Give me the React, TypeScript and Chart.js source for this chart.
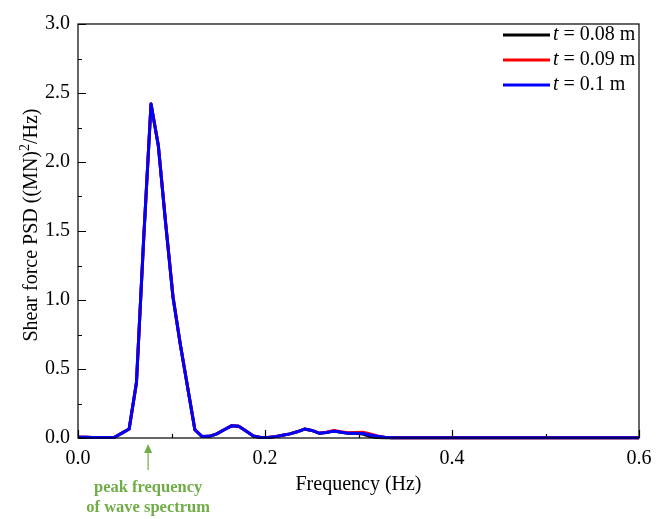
import React, { useEffect, useRef } from 'react';
import { Chart, registerables } from 'chart.js';

Chart.register(...registerables);

// Frequency (Hz)
const frequency = [
  0, 0.0078, 0.0156, 0.0234, 0.0313, 0.0391, 0.0469, 0.0547, 0.0625, 0.0703,
  0.0781, 0.0859, 0.0938, 0.1016, 0.1094, 0.1172, 0.125, 0.1328, 0.1406, 0.1484,
  0.1563, 0.1641, 0.1719, 0.1797, 0.1875, 0.1953, 0.2031, 0.2109, 0.2188, 0.2266,
  0.2344, 0.2422, 0.25, 0.2578, 0.2656, 0.2734, 0.2813, 0.2891, 0.2969, 0.3047,
  0.3125, 0.3203, 0.3281, 0.3359, 0.3438, 0.3516, 0.3594, 0.3672, 0.375, 0.3828,
  0.3906, 0.3984, 0.4063, 0.4141, 0.4219, 0.4297, 0.4375, 0.4453, 0.4531, 0.4609,
  0.4688, 0.4766, 0.4844, 0.4922, 0.5, 0.5078, 0.5156, 0.5234, 0.5313, 0.5391,
  0.5469, 0.5547, 0.5625, 0.5703, 0.5781, 0.5859, 0.5938, 0.6016,
];

// Shear force PSD ((MN)^2/Hz)
const psdT008 = [
  0.005, 0.005, 0.003, 0.003, 0.003, 0.005, 0.035, 0.065, 0.40, 1.45,
  2.42, 2.12, 1.55, 1.02, 0.68, 0.37, 0.06, 0.01, 0.012, 0.03,
  0.06, 0.088, 0.085, 0.05, 0.015, 0.003, 0.003, 0.01, 0.02, 0.03,
  0.045, 0.065, 0.055, 0.035, 0.04, 0.05, 0.042, 0.035, 0.035, 0.028,
  0.01, 0.004, 0.002, 0.001, 0.001, 0.001, 0.001, 0.001, 0.001, 0.001,
  0.001, 0.001, 0.001, 0.001, 0.001, 0.001, 0.001, 0.001, 0.001, 0.001,
  0.001, 0.001, 0.001, 0.001, 0.001, 0.001, 0.001, 0.001, 0.001, 0.001,
  0.001, 0.001, 0.001, 0.001, 0.001, 0.001, 0.001, 0.001,
];
const psdT009 = [
  0.005, 0.005, 0.003, 0.003, 0.003, 0.005, 0.035, 0.065, 0.40, 1.45,
  2.42, 2.12, 1.56, 1.03, 0.68, 0.37, 0.06, 0.01, 0.012, 0.03,
  0.06, 0.088, 0.085, 0.05, 0.015, 0.003, 0.003, 0.01, 0.02, 0.03,
  0.045, 0.065, 0.055, 0.035, 0.042, 0.055, 0.045, 0.038, 0.04, 0.042,
  0.03, 0.015, 0.005, 0.002, 0.001, 0.001, 0.001, 0.001, 0.001, 0.001,
  0.001, 0.001, 0.001, 0.001, 0.001, 0.001, 0.001, 0.001, 0.001, 0.001,
  0.001, 0.001, 0.001, 0.001, 0.001, 0.001, 0.001, 0.001, 0.001, 0.001,
  0.001, 0.001, 0.001, 0.001, 0.001, 0.001, 0.001, 0.001,
];
const psdT010 = [
  0.005, 0.005, 0.003, 0.003, 0.003, 0.005, 0.035, 0.065, 0.40, 1.45,
  2.42, 2.12, 1.55, 1.02, 0.68, 0.37, 0.06, 0.01, 0.012, 0.03,
  0.06, 0.088, 0.085, 0.05, 0.015, 0.003, 0.003, 0.01, 0.02, 0.03,
  0.045, 0.065, 0.055, 0.035, 0.04, 0.05, 0.042, 0.035, 0.035, 0.032,
  0.022, 0.012, 0.005, 0.002, 0.001, 0.001, 0.001, 0.001, 0.001, 0.001,
  0.001, 0.001, 0.001, 0.001, 0.001, 0.001, 0.001, 0.001, 0.001, 0.001,
  0.001, 0.001, 0.001, 0.001, 0.001, 0.001, 0.001, 0.001, 0.001, 0.001,
  0.001, 0.001, 0.001, 0.001, 0.001, 0.001, 0.001, 0.001,
];

const seriesThickness = ['0.08', '0.09', '0.1'];
const seriesColors = ['#000000', '#ff0000', '#0000ff'];
const xTickValues = [0, 0.1, 0.2, 0.3, 0.4, 0.5, 0.6];
const xTickLabels = ['0.0', '', '0.2', '', '0.4', '', '0.6'];
const yTickValues = [0, 0.25, 0.5, 0.75, 1, 1.25, 1.5, 1.75, 2, 2.25, 2.5, 2.75, 3];
const yTickLabels = ['0.0', '', '0.5', '', '1.0', '', '1.5', '', '2.0', '', '2.5', '', '3.0'];
const peakFrequency = 0.075;
const annotationLines = ['peak frequency', 'of wave spectrum'];
const yTitleParts = ['Shear force PSD ((MN)', '2', '/Hz)'];

const FONT = '"Liberation Serif", "Times New Roman", serif';

const framePlugin = {
  id: 'frameTicks',
  afterDraw(chart: any) {
    const { ctx, chartArea } = chart;
    const xs = chart.scales.x;
    const ys = chart.scales.y;
    const { left, right, top, bottom } = chartArea;
    ctx.save();
    ctx.strokeStyle = '#000';
    ctx.lineWidth = 1.2;
    ctx.strokeRect(left, top, right - left, bottom - top);
    ctx.beginPath();
    xTickValues.forEach((v, i) => {
      const px = Math.round(xs.getPixelForValue(v)) + 0.5;
      const len = xTickLabels[i] ? 8 : 4;
      ctx.moveTo(px, bottom);
      ctx.lineTo(px, bottom - len);
    });
    yTickValues.forEach((v, i) => {
      const py = Math.round(ys.getPixelForValue(v)) + 0.5;
      const len = yTickLabels[i] ? 8 : 4;
      ctx.moveTo(left, py);
      ctx.lineTo(left + len, py);
    });
    ctx.stroke();

    // y-axis title with superscript
    ctx.save();
    ctx.translate(32, (top + bottom) / 2 - 6);
    ctx.rotate(-Math.PI / 2);
    ctx.fillStyle = '#000';
    ctx.textBaseline = 'middle';
    ctx.textAlign = 'left';
    const mainFont = '20px ' + FONT;
    const supFont = '14px ' + FONT;
    ctx.font = mainFont;
    const w0 = ctx.measureText(yTitleParts[0]).width;
    const w2 = ctx.measureText(yTitleParts[2]).width;
    ctx.font = supFont;
    const w1 = ctx.measureText(yTitleParts[1]).width;
    let sx = -(w0 + w1 + w2) / 2;
    ctx.font = mainFont;
    ctx.fillText(yTitleParts[0], sx, 0);
    sx += w0;
    ctx.font = supFont;
    ctx.fillText(yTitleParts[1], sx, -7);
    sx += w1;
    ctx.font = mainFont;
    ctx.fillText(yTitleParts[2], sx, 0);
    ctx.restore();

    // legend
    const lx1 = right - 136;
    const lx2 = right - 89;
    const rows = [top + 11, top + 36, top + 61];
    seriesThickness.forEach((t, i) => {
      const y = rows[i];
      ctx.strokeStyle = seriesColors[i];
      ctx.lineWidth = 3;
      ctx.beginPath();
      ctx.moveTo(lx1, y);
      ctx.lineTo(lx2, y);
      ctx.stroke();
      ctx.fillStyle = '#000';
      ctx.textBaseline = 'middle';
      ctx.textAlign = 'left';
      ctx.font = 'italic 20px ' + FONT;
      const tx = lx2 + 3;
      ctx.fillText('t', tx, y);
      const w = ctx.measureText('t').width;
      ctx.font = '20px ' + FONT;
      ctx.fillText(' = ' + t + ' m', tx + w, y);
    });

    // peak frequency annotation
    const ax = xs.getPixelForValue(peakFrequency);
    const green = '#70ad47';
    ctx.strokeStyle = green;
    ctx.fillStyle = green;
    ctx.lineWidth = 1.2;
    ctx.beginPath();
    ctx.moveTo(ax, bottom + 12);
    ctx.lineTo(ax, bottom + 32);
    ctx.stroke();
    ctx.beginPath();
    ctx.moveTo(ax, bottom + 6);
    ctx.lineTo(ax - 4, bottom + 15);
    ctx.lineTo(ax + 4, bottom + 15);
    ctx.closePath();
    ctx.fill();
    ctx.font = 'bold 16.5px ' + FONT;
    ctx.textAlign = 'center';
    ctx.textBaseline = 'middle';
    ctx.fillText(annotationLines[0], ax, bottom + 50);
    ctx.fillText(annotationLines[1], ax, bottom + 70);
    ctx.restore();
  },
};

export default function App() {
  const canvasRef = useRef<HTMLCanvasElement | null>(null);

  useEffect(() => {
    document.body.style.margin = '0';
    const canvas = canvasRef.current;
    if (!canvas) return;
    Chart.defaults.font.family = FONT;
    Chart.defaults.font.size = 20;
    Chart.defaults.color = '#000';

    const sets = [psdT008, psdT009, psdT010];
    const chart = new Chart(canvas, {
      type: 'line',
      data: {
        datasets: sets.map((arr, i) => ({
          label: 't = ' + seriesThickness[i] + ' m',
          data: frequency.map((f, j) => ({ x: f, y: arr[j] })),
          borderColor: seriesColors[i],
          backgroundColor: seriesColors[i],
          borderWidth: 3,
          borderJoinStyle: 'round',
          pointRadius: 0,
          tension: 0,
          order: sets.length - 1 - i,
          clip: { left: 5, top: 5, right: 0, bottom: 5 } as any,
        })),
      },
      options: {
        animation: false,
        responsive: false,
        maintainAspectRatio: false,
        layout: { padding: { left: 0, top: 24, right: 25, bottom: 0 } },
        plugins: {
          legend: { display: false },
          tooltip: { enabled: false },
        },
        scales: {
          x: {
            type: 'linear',
            min: 0,
            max: 0.6,
            afterFit: (s: any) => { s.height = 81; },
            afterBuildTicks: (s: any) => { s.ticks = xTickValues.map((v) => ({ value: v })); },
            grid: { display: false, drawTicks: false },
            border: { display: false },
            ticks: {
              padding: 9,
              maxRotation: 0,
              autoSkip: false,
              font: { size: 20, family: FONT },
              callback: (_v: any, i: number) => xTickLabels[i],
            },
            title: {
              display: true,
              text: 'Frequency (Hz)',
              font: { size: 20, family: FONT },
              padding: { top: 0, bottom: 22 },
            },
          },
          y: {
            type: 'linear',
            min: 0,
            max: 3,
            afterFit: (s: any) => { s.width = 78; },
            afterBuildTicks: (s: any) => { s.ticks = yTickValues.map((v) => ({ value: v })); },
            grid: { display: false, drawTicks: false },
            border: { display: false },
            ticks: {
              padding: 8,
              autoSkip: false,
              font: { size: 20, family: FONT },
              callback: (_v: any, i: number) => yTickLabels[i],
            },
            title: { display: false },
          },
        },
      },
      plugins: [framePlugin],
    });
    return () => chart.destroy();
  }, []);

  return (
    <div style={{ width: 664, height: 519 }}>
      <canvas ref={canvasRef} width={664} height={519} style={{ display: 'block', width: 664, height: 519 }} />
    </div>
  );
}
